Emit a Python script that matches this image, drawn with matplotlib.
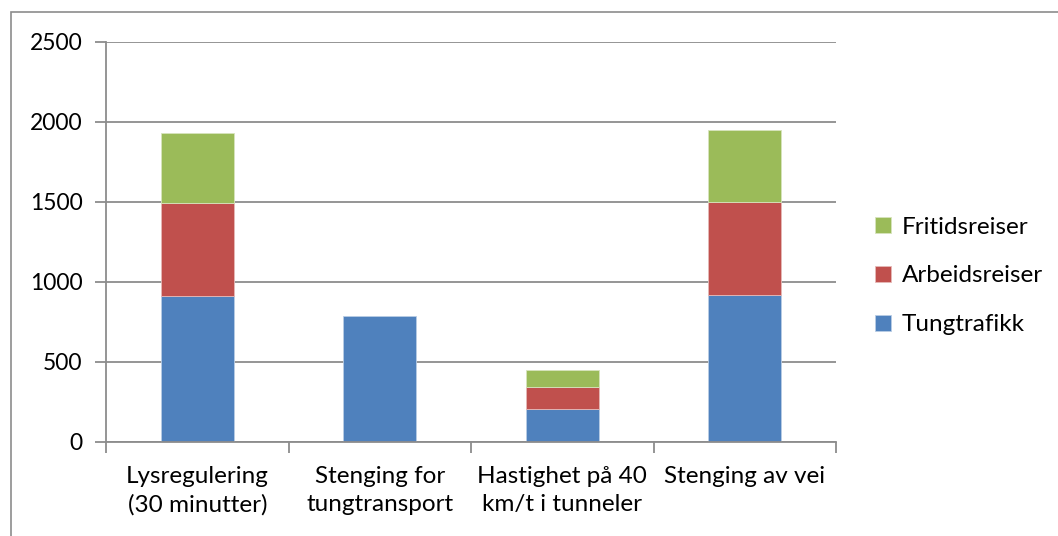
import numpy as np
import matplotlib.pyplot as plt
from matplotlib.patches import Rectangle

plt.rcParams['font.family'] = ['Lato', 'DejaVu Sans']

# categories and stacked series
categories = ['Lysregulering\n(30 minutter)', 'Stenging for\ntungtransport',
              'Hastighet på 40\nkm/t i tunneler', 'Stenging av vei']
tungtrafikk = [910, 790, 208, 917]
arbeidsreiser = [582, 0, 136, 583]
fritidsreiser = [441, 0, 104, 448]

blue = '#4F81BD'
red = '#C0504D'
green = '#9BBB59'
grid_col = '#8c8c8c'

fig = plt.figure(figsize=(10.58, 5.36), dpi=100)
ax = fig.add_axes([106/1058, 1 - 442/536, (836-106)/1058, 400/536])

x = np.arange(len(categories))
w = 0.4
b1 = ax.bar(x, tungtrafikk, w, color=blue, edgecolor='#b9cde5', linewidth=0.6, label='Tungtrafikk')
b2 = ax.bar(x, arbeidsreiser, w, bottom=tungtrafikk, color=red, edgecolor='#e6b9b8',
            linewidth=0.6, label='Arbeidsreiser')
base = np.array(tungtrafikk) + np.array(arbeidsreiser)
b3 = ax.bar(x, fritidsreiser, w, bottom=base, color=green, edgecolor='#d7e4bd',
            linewidth=0.6, label='Fritidsreiser')
for bars, vals in ((b2, arbeidsreiser), (b3, fritidsreiser)):
    for r, v in zip(bars, vals):
        if v == 0:
            r.set_visible(False)

ax.set_xlim(-0.5, len(categories) - 0.5)
ax.set_ylim(0, 2500)
ax.set_yticks(range(0, 2501, 500))
ax.yaxis.grid(True, color=grid_col, linewidth=1.3)
ax.set_axisbelow(True)

for s in ('top', 'right'):
    ax.spines[s].set_visible(False)
for s in ('left', 'bottom'):
    ax.spines[s].set_color(grid_col)
    ax.spines[s].set_linewidth(1.3)

# category labels between the boundary ticks
ax.set_xticks(np.arange(-0.5, len(categories)), minor=False)
ax.set_xticklabels([])
ax.set_xticks(x, minor=True)
ax.set_xticklabels(categories, minor=True, fontsize=17.5, linespacing=1.45)
ax.tick_params(axis='x', which='minor', length=0, pad=17)
ax.tick_params(axis='x', which='major', length=8, width=1.3, color=grid_col)
ax.tick_params(axis='y', length=8, width=1.3, color=grid_col, labelsize=16.5, pad=9)

handles = [b3, b2, b1]
ax.legend(handles, [h.get_label() for h in handles], loc='center left',
          bbox_to_anchor=(1.04, 0.415), frameon=False, fontsize=17.5,
          handlelength=0.65, handleheight=0.65, handletextpad=0.45, labelspacing=1.15,
          borderaxespad=0)

# outer chart frame
fig.patches.append(Rectangle((11/1058, -0.1), 1.2, 1 - 12/536 + 0.1, transform=fig.transFigure,
                             fill=False, edgecolor='#8c8c8c', linewidth=1.2))

fig.savefig('out.png', dpi=100)
